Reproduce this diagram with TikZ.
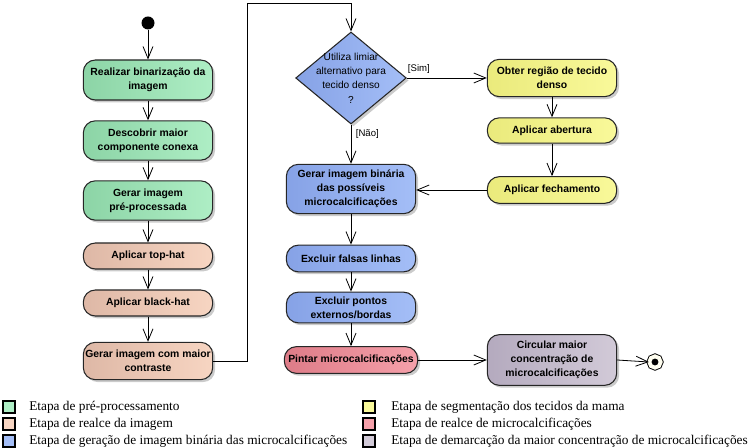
\documentclass[tikz,border=0pt]{standalone}
\usepackage{fontspec}
\setmainfont{Liberation Serif}
\setsansfont{Liberation Sans}
\usetikzlibrary{arrows.meta,shapes.geometric,shadows}

\definecolor{verdeA}{RGB}{140,212,166}
\definecolor{verdeB}{RGB}{174,238,197}
\definecolor{pessegoA}{RGB}{222,184,166}
\definecolor{pessegoB}{RGB}{247,213,194}
\definecolor{azulA}{RGB}{134,162,230}
\definecolor{azulB}{RGB}{164,190,247}
\definecolor{amareloA}{RGB}{234,234,124}
\definecolor{amareloB}{RGB}{249,249,154}
\definecolor{rosaA}{RGB}{222,124,136}
\definecolor{rosaB}{RGB}{245,160,170}
\definecolor{cinzaA}{RGB}{180,170,190}
\definecolor{cinzaB}{RGB}{210,202,216}

\tikzset{
    etapa/.style={draw=black!85, line width=0.8pt, rounded corners=9pt, align=center,
        font=\sffamily\bfseries\fontsize{7.8}{10.5}\selectfont, inner sep=1pt,
        minimum width=97pt,
        drop shadow={shadow xshift=1.8pt, shadow yshift=-1.8pt, fill=black!45, opacity=0.45}},
    preproc/.style={etapa, left color=verdeA, right color=verdeB},
    realce/.style={etapa, left color=pessegoA, right color=pessegoB},
    binar/.style={etapa, left color=azulA, right color=azulB},
    segment/.style={etapa, left color=amareloA, right color=amareloB},
    micro/.style={etapa, left color=rosaA, right color=rosaB},
    demarc/.style={etapa, left color=cinzaA, right color=cinzaB},
    seta/.style={-{Straight Barb[length=9pt,width=7.5pt]}, line width=0.6pt},
    guarda/.style={font=\sffamily\fontsize{7.2}{9}\selectfont},
    legquad/.style={draw, line width=0.8pt, minimum size=9pt, inner sep=0pt},
    legtxt/.style={anchor=west, inner sep=0pt, font=\fontsize{10}{12}\selectfont},
}

\begin{document}
\begin{tikzpicture}[x=0.75pt,y=0.75pt,yscale=-1,xscale=1]
    \useasboundingbox (0,0) rectangle (752,448);

    %Start and end
    \node[circle, fill=black, minimum size=9.75pt, inner sep=0pt] (inicio) at (148,23) {};
    \node[circle, fill=black, draw=black, line width=0.7pt, double=yellow!6, double distance=2.9pt,
        minimum size=8.5pt, inner sep=0pt] (fim) at (655,362) {};

    %Left column
    \node[preproc, minimum height=30pt] (binariza) at (148,80) {Realizar binarização da\\imagem};
    \node[preproc, minimum height=29.5pt] (conexa) at (148,140.5) {Descobrir maior\\componente conexa};
    \node[preproc, minimum height=29.5pt] (preproc) at (148,200.5) {Gerar imagem\\pré-processada};
    \node[realce, minimum height=19.5pt] (tophat) at (148,256) {Aplicar top-hat};
    \node[realce, minimum height=19.5pt] (blackhat) at (148,303) {Aplicar black-hat};
    \node[realce, minimum height=28pt] (contraste) at (148,361) {Gerar imagem com maior\\contraste};

    %Middle column
    \node[diamond, draw=black!85, line width=0.8pt, left color=azulA, right color=azulB,
        minimum width=83pt, minimum height=69pt, inner sep=0pt,
        drop shadow={shadow xshift=1.8pt, shadow yshift=-1.8pt, fill=black!45, opacity=0.45},
        label={[align=center, font=\sffamily\fontsize{7.6}{10.7}\selectfont]center:Utiliza limiar\\alternativo para\\tecido denso\\?}]
        (limiar) at (351,78) {};
    \node[binar, minimum height=37pt] (binaria) at (351,189) {Gerar imagem binária\\das possíveis\\microcalcificações};
    \node[binar, minimum height=20pt] (falsas) at (351,258.5) {Excluir falsas linhas};
    \node[binar, minimum height=23pt] (bordas) at (351,307.5) {Excluir pontos\\externos/bordas};
    \node[micro, minimum height=20pt, minimum width=100pt] (pintar) at (351,360) {Pintar microcalcificações};

    %Right column
    \node[segment, minimum height=28pt] (denso) at (552,78) {Obter região de tecido\\denso};
    \node[segment, minimum height=19pt] (abertura) at (552,130.5) {Aplicar abertura};
    \node[segment, minimum height=20pt] (fechamento) at (552,190) {Aplicar fechamento};
    \node[demarc, minimum height=38pt] (circular) at (552,360) {Circular maior\\concentração de\\microcalcificações};

    %Flow
    \coordinate (volta) at (247,3);
    \draw[seta] (inicio) -- (binariza);
    \draw[seta] (binariza) -- (conexa);
    \draw[seta] (conexa) -- (preproc);
    \draw[seta] (preproc) -- (tophat);
    \draw[seta] (tophat) -- (blackhat);
    \draw[seta] (blackhat) -- (contraste);
    \draw[seta] (contraste.east) -| (volta) -| (limiar.north);
    \draw[seta] (limiar.east) -- node[guarda, above, pos=0.15] {[Sim]} (denso.west);
    \draw[seta] (limiar.south) -- node[guarda, right, pos=0.25] {[Não]} (binaria.north);
    \draw[seta] (denso) -- (abertura);
    \draw[seta] (abertura) -- (fechamento);
    \draw[seta] (fechamento.west) -- (fechamento.west -| binaria.east);
    \draw[seta] (binaria) -- (falsas);
    \draw[seta] (falsas) -- (bordas);
    \draw[seta] (bordas) -- (pintar);
    \draw[seta] (pintar.east) -- (pintar.east -| circular.west);
    \draw[seta] (circular.east) -- (fim.west);

    %Legend
    \node[legquad, fill=verdeB] (lq1) at (9,407) {};
    \node[legquad, fill=pessegoB] (lq2) at (9,424) {};
    \node[legquad, fill=azulB] (lq3) at (9,441) {};
    \node[legquad, fill=amareloB] (lq4) at (369,407) {};
    \node[legquad, fill=rosaB] (lq5) at (369,424) {};
    \node[legquad, fill=cinzaB] (lq6) at (369,441) {};
    \node[legtxt] (lt1) at (29,407) {Etapa de pré-processamento};
    \node[legtxt] (lt2) at (29,424) {Etapa de realce da imagem};
    \node[legtxt] (lt3) at (29,441) {Etapa de geração de imagem binária das microcalcificações};
    \node[legtxt] (lt4) at (391,407) {Etapa de segmentação dos tecidos da mama};
    \node[legtxt] (lt5) at (391,424) {Etapa de realce de microcalcificações};
    \node[legtxt] (lt6) at (391,441) {Etapa de demarcação da maior concentração de microcalcificações};
\end{tikzpicture}
\end{document}
